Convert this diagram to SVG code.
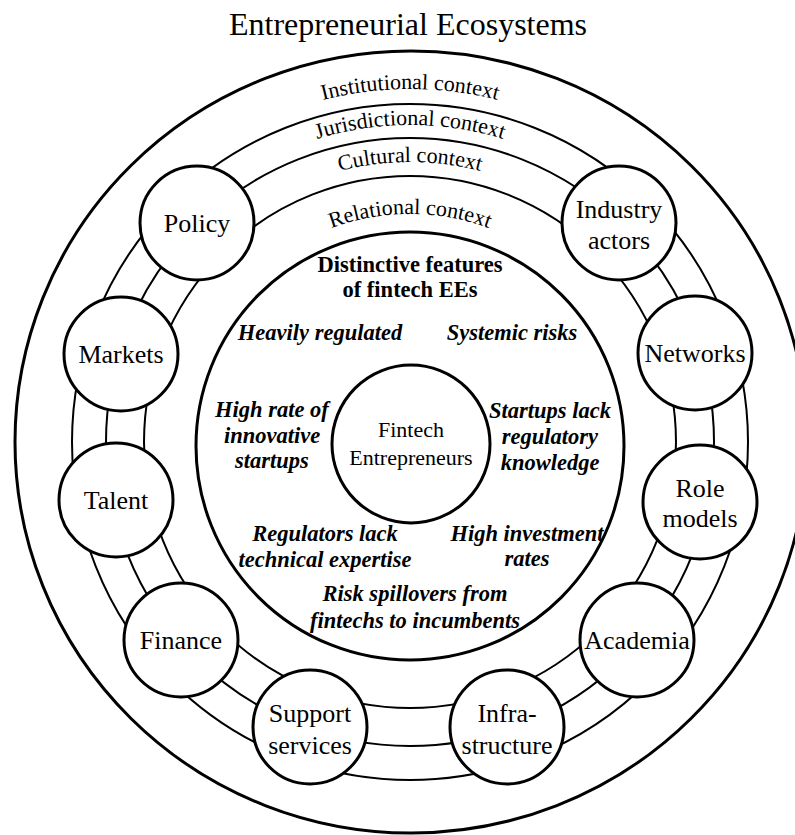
<svg xmlns="http://www.w3.org/2000/svg" width="795" height="835" viewBox="0 0 795 835">
<style>
text{font-family:"Liberation Serif","Times New Roman",serif;fill:#000}
.title{font-size:32px;text-anchor:middle}
.ctx{font-size:22px}
.lbl{font-size:26px;text-anchor:middle}
.feat{font-size:22.5px;font-weight:bold;font-style:italic;text-anchor:middle}
.head{font-size:22.5px;font-weight:bold;text-anchor:middle}
.core{font-size:22px;text-anchor:middle}
.ring{fill:none;stroke:#000;stroke-width:2}
.big{fill:none;stroke:#000;stroke-width:3}
.node{fill:#fff;stroke:#000;stroke-width:3}
</style>
<defs>
<path id="pInst" d="M 57,442 A 353 353 0 0 1 763,442"/>
<path id="pJur" d="M 93,442 A 317 317 0 0 1 727,442"/>
<path id="pCul" d="M 130,442 A 280 280 0 0 1 690,442"/>
<path id="pRel" d="M 182,442 A 228 228 0 0 1 638,442"/>
</defs>
<rect width="795" height="835" fill="#fff"/>
<text class="title" x="408" y="35">Entrepreneurial Ecosystems</text>
<ellipse id="outer" class="big" cx="411" cy="442" rx="396" ry="391"/>
<g id="connectors">
<circle class="ring" cx="410" cy="442" r="338"/>
<circle class="ring" cx="410" cy="442" r="304"/>
<circle class="ring" cx="410" cy="442" r="266"/>
</g>
<g id="contexts">
<text class="ctx"><textPath href="#pInst" startOffset="50%" text-anchor="middle">Institutional context</textPath></text>
<text class="ctx"><textPath href="#pJur" startOffset="50%" text-anchor="middle">Jurisdictional context</textPath></text>
<text class="ctx"><textPath href="#pCul" startOffset="50%" text-anchor="middle">Cultural context</textPath></text>
<text class="ctx"><textPath href="#pRel" startOffset="50%" text-anchor="middle">Relational context</textPath></text>
</g>
<g id="features">
<circle class="big" cx="410" cy="446" r="214"/>
<text class="head" x="410" y="272">Distinctive features</text>
<text class="head" x="410" y="297">of fintech EEs</text>
<text class="feat" x="320" y="340">Heavily regulated</text>
<text class="feat" x="512" y="340">Systemic risks</text>
<text class="feat" x="272" y="417">High rate of</text>
<text class="feat" x="272" y="443">innovative</text>
<text class="feat" x="272" y="468">startups</text>
<text class="feat" x="550" y="418">Startups lack</text>
<text class="feat" x="550" y="444">regulatory</text>
<text class="feat" x="550" y="470">knowledge</text>
<text class="feat" x="325" y="541">Regulators lack</text>
<text class="feat" x="325" y="567">technical expertise</text>
<text class="feat" x="527" y="541">High investment</text>
<text class="feat" x="527" y="566">rates</text>
<text class="feat" x="415" y="601">Risk spillovers from</text>
<text class="feat" x="415" y="628">fintechs to incumbents</text>
</g>
<g id="fintech-entrepreneurs">
<circle class="node" cx="411" cy="444" r="79"/>
<text class="core" x="411" y="437">Fintech</text>
<text class="core" x="411" y="465">Entrepreneurs</text>
</g>
<g id="policy"><circle class="node" cx="197" cy="223" r="57"/><text class="lbl" x="197" y="232">Policy</text></g>
<g id="industry-actors"><circle class="node" cx="619" cy="223" r="57"/><text class="lbl" x="619" y="218">Industry</text><text class="lbl" x="619" y="249">actors</text></g>
<g id="markets"><circle class="node" cx="121" cy="354" r="57"/><text class="lbl" x="121" y="363">Markets</text></g>
<g id="networks"><circle class="node" cx="695" cy="353" r="57"/><text class="lbl" x="695" y="362">Networks</text></g>
<g id="talent"><circle class="node" cx="116" cy="500" r="57"/><text class="lbl" x="116" y="509">Talent</text></g>
<g id="role-models"><circle class="node" cx="700" cy="502" r="57"/><text class="lbl" x="700" y="497">Role</text><text class="lbl" x="700" y="527">models</text></g>
<g id="finance"><circle class="node" cx="181" cy="640" r="57"/><text class="lbl" x="181" y="649">Finance</text></g>
<g id="academia"><circle class="node" cx="637" cy="640" r="57"/><text class="lbl" x="637" y="649">Academia</text></g>
<g id="support-services"><circle class="node" cx="310" cy="727" r="57"/><text class="lbl" x="310" y="722">Support</text><text class="lbl" x="310" y="754">services</text></g>
<g id="infrastructure"><circle class="node" cx="507" cy="727" r="57"/><text class="lbl" x="507" y="722">Infra-</text><text class="lbl" x="507" y="754">structure</text></g>
</svg>
